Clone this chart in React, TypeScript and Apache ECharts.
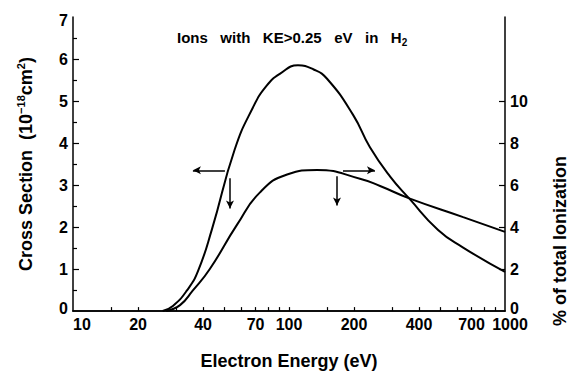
import React, { useEffect, useRef } from "react";
import * as echarts from "echarts";

// Cross section curve (left axis, 10^-18 cm^2)
const energyA = [26, 29, 33.7, 37.9, 44, 56, 68, 79, 91, 110, 130, 150, 198, 237, 294, 360, 490, 640, 1000];
const crossSection = [0, 0.12, 0.49, 0.95, 1.95, 3.84, 4.84, 5.37, 5.65, 5.85, 5.75, 5.53, 4.67, 3.9, 3.2, 2.68, 1.93, 1.51, 0.93];

// % of total ionization curve (right axis)
const energyB = [27, 31.3, 35.9, 43, 57.4, 73.4, 98, 135, 213, 264, 363, 640, 1000];
const ionizationPct = [0, 0.28, 0.98, 2.0, 4.1, 5.65, 6.5, 6.72, 6.3, 5.95, 5.35, 4.47, 3.77];

// Axis ticks / labels
const xTickValues = [15, 20, 30, 40, 50, 60, 70, 80, 90, 100, 150, 200, 300, 400, 500, 600, 700, 800, 900];
const xLabelValues = [10, 20, 40, 70, 100, 200, 400, 700, 1000];
const leftMajorTicks = [1, 2, 3, 4, 5, 6];
const leftMinorTicks = [0.5, 1.5, 2.5, 3.5, 4.5, 5.5, 6.5];
const rightTickValues = [2, 4, 6, 8, 10];
const rightLabelValues = [0, 2, 4, 6, 8, 10];

// Annotation arrows, [energy, cross section] start -> end
const arrowFrom = [[50.5, 3.35], [53.3, 3.16], [166.8, 3.21], [177.8, 3.35]];
const arrowTo = [[35.9, 3.35], [53.3, 2.44], [166.8, 2.51], [250, 3.35]];

const FONT = "'Liberation Sans', Arial, sans-serif";

// tick lengths expressed in axis units (plot: 216 px per decade, 43 px per left unit)
const X_TICK = 4 / 43;
const Y_MAJOR_END = Math.pow(10, 1 + 6 / 216);
const Y_MINOR_END = Math.pow(10, 1 + 4 / 216);
const R_TICK_END = Math.pow(10, 3 - 6 / 216);

export default function App() {
  const ref = useRef<HTMLDivElement>(null);
  useEffect(() => {
    if (!ref.current) return;
    const chart = echarts.init(ref.current, undefined, { renderer: "svg" });
    const tickLabel = { color: "#000", fontFamily: FONT, fontWeight: "bold" as const, fontSize: 16 };
    const labelRich = {
      lo: { ...tickLabel, padding: [0, 0, 6, 0] },
      hi: { ...tickLabel, padding: [6, 0, 0, 0] },
      r: { ...tickLabel, padding: [0, 0, 0, 10] },
    };
    const axisLine = { show: true, lineStyle: { color: "#000", width: 1.5 } };
    const seg = (a: number[], b: number[], arrow = false) => [
      { coord: a, symbol: "none" },
      { coord: b, symbol: arrow ? "arrow" : "none" },
    ];
    const tickStyle = { color: "#000", width: 1.2, type: "solid" };
    const markA = [
      ...arrowFrom.map((f, i) => {
        const s = seg(f, arrowTo[i], true);
        return s.map((p) => ({ ...p, lineStyle: { color: "#000", width: 1.5, type: "solid" } }));
      }),
      ...xTickValues.map((e) => seg([e, 0], [e, X_TICK])),
      ...leftMajorTicks.map((v) => seg([10, v], [Y_MAJOR_END, v])),
      ...leftMinorTicks.map((v) => seg([10, v], [Y_MINOR_END, v])),
    ];
    const markB = rightTickValues.map((p) => seg([1000, p], [R_TICK_END, p]));
    chart.setOption({
      animation: false,
      backgroundColor: "#fff",
      grid: { left: 73, right: 66, top: 17, bottom: 57, show: false },
      title: {
        text: "Ions   with   KE>0.25   eV   in   H{sub|2}",
        left: 177,
        top: 27,
        padding: 0,
        textStyle: {
          color: "#000", fontFamily: FONT, fontWeight: "bold", fontSize: 15, lineHeight: 20,
          rich: { sub: { color: "#000", fontFamily: FONT, fontWeight: "bold", fontSize: 10, verticalAlign: "bottom" } },
        },
      },
      xAxis: [
        {
          type: "log",
          logBase: 10,
          min: 10,
          max: 1000,
          name: "Electron Energy (eV)",
          nameLocation: "middle",
          nameGap: 41,
          nameTextStyle: { color: "#000", fontFamily: FONT, fontWeight: "bold", fontSize: 18 },
          axisLine,
          axisTick: { show: false },
          axisLabel: {
            ...tickLabel,
            margin: 5,
            customValues: xLabelValues,
            alignMinLabel: "left",
            showMaxLabel: true,
            showMinLabel: true,
            formatter: (v: number) => (Math.round(v) === 1000 ? "{r|1000}" : String(Math.round(v))),
            rich: labelRich,
          },
          minorTick: { show: false },
          splitLine: { show: false },
        },
        {
          type: "log",
          logBase: 10,
          min: 10,
          max: 1000,
          position: "top",
          axisLine,
          axisTick: { show: false },
          axisLabel: { show: false },
          splitLine: { show: false },
        },
      ],
      yAxis: [
        {
          type: "value",
          min: 0,
          max: 7,
          interval: 1,
          name: "Cross Section  (10{sup|−18}cm{sup|2})",
          nameLocation: "middle",
          nameRotate: 90,
          nameGap: 36,
          nameTextStyle: {
            color: "#000", fontFamily: FONT, fontWeight: "bold", fontSize: 18, lineHeight: 22,
            rich: { sup: { color: "#000", fontFamily: FONT, fontWeight: "bold", fontSize: 11, verticalAlign: "top" } },
          },
          axisLine,
          axisTick: { show: false },
          minorTick: { show: false },
          axisLabel: {
            ...tickLabel,
            margin: 5,
            formatter: (v: number) => (v === 0 ? "{lo|0}" : v === 7 ? "{hi|7}" : String(v)),
            rich: labelRich,
          },
          splitLine: { show: false },
        },
        {
          type: "value",
          position: "right",
          min: 0,
          max: 14,
          interval: 2,
          axisLine,
          axisTick: { show: false },
          axisLabel: {
            ...tickLabel,
            margin: 5,
            customValues: rightLabelValues,
            formatter: (v: number) => (v === 0 ? "{lo|0}" : String(v)),
            rich: labelRich,
          },
          splitLine: { show: false },
        },
      ],
      graphic: [
        {
          type: "text",
          x: 560,
          y: 241,
          rotation: Math.PI / 2,
          style: {
            text: "% of total Ionization",
            fill: "#000",
            fontFamily: FONT,
            fontWeight: "bold",
            fontSize: 18,
            align: "center",
            verticalAlign: "middle",
          },
        },
      ],
      series: [
        {
          type: "line",
          yAxisIndex: 0,
          data: energyA.map((e, i) => [e, crossSection[i]]),
          smooth: 0.5,
          showSymbol: false,
          symbol: "none",
          lineStyle: { color: "#000", width: 2 },
          markLine: {
            silent: true,
            symbol: ["none", "none"],
            symbolSize: [6, 8],
            precision: 6,
            label: { show: false },
            emphasis: { disabled: true },
            lineStyle: tickStyle,
            data: markA,
          },
        },
        {
          type: "line",
          yAxisIndex: 1,
          data: energyB.map((e, i) => [e, ionizationPct[i]]),
          smooth: 0.5,
          showSymbol: false,
          symbol: "none",
          lineStyle: { color: "#000", width: 2 },
          markLine: {
            silent: true,
            symbol: ["none", "none"],
            precision: 6,
            label: { show: false },
            emphasis: { disabled: true },
            lineStyle: tickStyle,
            data: markB,
          },
        },
      ],
    });
    return () => chart.dispose();
  }, []);
  return <div ref={ref} style={{ width: 571, height: 375, position: "absolute", left: 0, top: 0 }} />;
}
